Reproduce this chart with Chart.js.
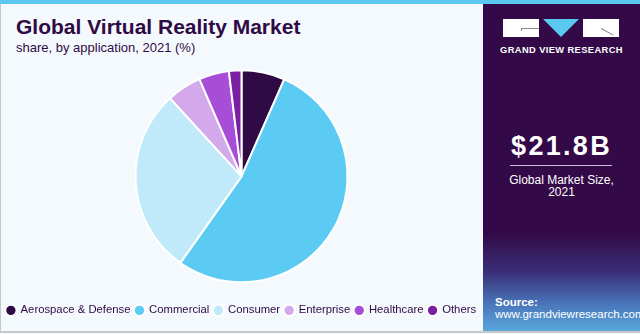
<!DOCTYPE html>
<html lang="en">
<head>
<meta charset="UTF-8">
<title>Global Virtual Reality Market</title>
<script src="https://cdn.jsdelivr.net/npm/chart.js"></script>
<style>
  html, body { margin: 0; padding: 0; }
  body { width: 640px; height: 334px; position: relative; overflow: hidden; background: #f4f9fd; font-family: "Liberation Sans", Arial, sans-serif; }
  .frame { position: absolute; left: 0; top: 0; width: 638px; height: 331px; border-left: 1px solid #c8c8c8; border-right: 1px solid #c8c8c8; border-bottom: 2px solid #c8c8c8; }
  .stripe { position: absolute; left: 0; top: 0; width: 640px; height: 4px; background: #5bc8f0; }
  .title { position: absolute; left: 16px; top: 15px; font-size: 21px; font-weight: bold; color: #2f0a45; }
  .subtitle { position: absolute; left: 16px; top: 40px; font-size: 13px; color: #2f0a45; }
  .panel { position: absolute; left: 483px; top: 4px; width: 157px; height: 327px;
           background: linear-gradient(to bottom, #330a47 0%, #330a47 70%, #3a2f78 82%, #4a77bb 92%, #5aa8dc 100%); }
  .logo { position: absolute; left: 20px; top: 15px; width: 115px; height: 18px; }
  .logo .box { position: absolute; top: 0; width: 36px; height: 18px; background: #fff; }
  .logo .tri { position: absolute; left: 40px; top: 0; width: 0; height: 0; border-left: 18px solid transparent; border-right: 18px solid transparent; border-top: 18px solid #5bc8f0; }
  .logo .mark { position: absolute; background: #8a8496; }
  .brand { position: absolute; left: 0; width: 157px; top: 41px; text-align: center; color: #fff; font-size: 9.3px; font-weight: bold; letter-spacing: 0.4px; }
  .size { position: absolute; left: 0; width: 157px; top: 127px; text-align: center; color: #fff; font-size: 27px; font-weight: bold; letter-spacing: 2.3px; }
  .rule { position: absolute; left: 27px; width: 102px; top: 161px; height: 1px; background: #c9c0d6; }
  .caption { position: absolute; left: 0; width: 157px; top: 170px; text-align: center; color: #fff; font-size: 12px; line-height: 12px; }
  .source { position: absolute; left: 12px; top: 292px; color: #fff; font-size: 11.5px; line-height: 12px; }
  .chart-box { position: absolute; left: 0; top: 53px; width: 483px; height: 273px; }
</style>
</head>
<body>
<div class="frame"></div>
<div class="stripe"></div>
<div class="title">Global Virtual Reality Market</div>
<div class="subtitle">share, by application, 2021 (%)</div>
<div class="panel">
  <div class="logo">
    <div class="box" style="left:0"></div>
    <div class="mark" style="left:18px; top:9px; width:18px; height:1px"></div>
    <div class="mark" style="left:18px; top:9px; width:1px; height:3px"></div>
    <div class="tri"></div>
    <div class="box" style="left:80px"></div>
    <div class="mark" style="left:98px; top:9px; width:14px; height:1px; transform: rotate(28deg); transform-origin: left center"></div>
  </div>
  <div class="brand">GRAND VIEW RESEARCH</div>
  <div class="size">$21.8B</div>
  <div class="rule"></div>
  <div class="caption">Global Market Size,<br>2021</div>
  <div class="source"><b>Source:</b><br>www.grandviewresearch.com</div>
</div>
<div class="chart-box"><canvas id="pie"></canvas></div>
<script>
  const applications = ['Aerospace & Defense', 'Commercial', 'Consumer', 'Enterprise', 'Healthcare', 'Others'];
  const shares = [6.6, 53.2, 28.4, 5.3, 4.6, 1.9];
  const colors = ['#2f0a45', '#5bcbf3', '#c0eaf9', '#d4a9ec', '#a64fd6', '#7a1fa0'];

  new Chart(document.getElementById('pie'), {
    type: 'pie',
    data: {
      labels: applications,
      datasets: [{
        data: shares,
        backgroundColor: colors,
        borderColor: '#ffffff',
        borderWidth: 2
      }]
    },
    options: {
      responsive: true,
      maintainAspectRatio: false,
      animation: false,
      radius: 106,
      layout: { padding: 0 },
      plugins: {
        tooltip: { enabled: false },
        legend: {
          position: 'bottom',
          labels: {
            usePointStyle: true,
            pointStyle: 'circle',
            boxWidth: 8,
            boxHeight: 8,
            padding: 5,
            color: '#2f0a45',
            font: { family: 'Liberation Sans', size: 11.3 }
          }
        }
      }
    }
  });
</script>
</body>
</html>
